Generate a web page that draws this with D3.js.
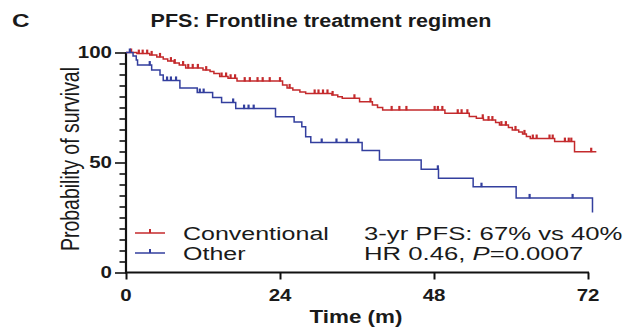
<!DOCTYPE html>
<html>
<head>
<meta charset="utf-8">
<script src="https://cdn.jsdelivr.net/npm/d3@7"></script>
<style>
  html, body { margin: 0; padding: 0; background: #fff; }
  svg { display: block; }
  text { font-family: "Liberation Sans", Arial, sans-serif; fill: #1a1a1a; }
</style>
</head>
<body>
<svg id="chart" width="631" height="330"></svg>
<script>
// Kaplan–Meier PFS by frontline treatment regimen
const xTicks = [0, 24, 48, 72];
const yTicks = [0, 50, 100];

// Conventional: step times (months) and survival (%) after each step
const convTimes = [0, 1.7, 3.7, 4.8, 5.8, 6.5, 7.5, 8.3, 9.3, 12.0, 13.1, 13.7, 14.6, 15.9, 17.3,
  24.4, 25.1, 26.0, 27.1, 28.0, 32.1, 33.0, 33.7, 36.4, 38.4, 39.2, 40.0, 49.7, 53.5, 54.6, 55.7,
  57.6, 58.2, 59.6, 60.2, 61.2, 61.8, 62.4, 63.0, 66.8, 69.9, 73.3];
const convSurv = [100, 99.5, 98.9, 98.0, 97.0, 96.1, 95.2, 94.3, 93.0, 92.0, 91.4, 90.5, 89.1, 88.3, 87.0,
  85.2, 83.9, 83.0, 82.0, 81.4, 80.7, 79.9, 79.2, 77.6, 76.1, 75.0, 73.9, 72.4, 70.9, 70.1, 69.3,
  68.2, 67.0, 65.9, 64.8, 63.9, 63.0, 61.8, 60.9, 59.5, 54.9, 54.9];
// Conventional: censored observations (months)
const convCensor = [0.8, 2.0, 2.6, 3.3, 4.0, 5.3, 7.0, 7.6, 8.9, 9.7, 10.4, 11.2, 12.5, 14.9, 15.6, 16.3,
  17.0, 18.5, 19.3, 20.5, 21.3, 22.4, 24.0, 25.5, 29.4, 30.0, 30.7, 31.4, 32.2, 35.6, 38.1, 41.4, 42.6,
  43.7, 48.1, 48.6, 49.3, 51.7, 52.3, 53.2, 55.6, 56.5, 57.1, 58.5, 59.2, 60.7, 62.1, 63.4, 64.0,
  66.0, 66.5, 68.4, 69.0, 69.4, 72.5];

// Other: step times (months) and survival (%) after each step
const otherTimes = [0, 1.1, 1.6, 1.8, 4.0, 5.3, 5.8, 8.4, 11.1, 13.5, 14.9, 17.1, 23.3, 26.2, 27.4,
  28.0, 28.8, 36.8, 39.5, 46.0, 48.7, 54.1, 60.8, 72.7];
const otherSurv = [100, 98.4, 96.6, 94.3, 92.0, 89.8, 87.3, 83.9, 81.8, 79.5, 77.3, 74.5, 70.8, 68.4, 66.3,
  61.7, 59.1, 55.5, 51.1, 46.9, 42.8, 39.0, 33.9, 27.3];
// Other: censored observations (months)
const otherCensor = [0.6, 3.7, 6.4, 7.0, 7.8, 11.5, 12.1, 16.7, 18.4, 19.1, 19.9, 30.5, 32.8, 34.4, 36.2,
  48.6, 55.4, 62.9, 69.6];

const seriesNames = ["Conventional", "Other"];
const statLines = ["3-yr PFS: 67% vs 40%", "HR 0.46, "];

const RED = "#c42a2c";
const BLUE = "#333f9e";
const SX = 1.28; // horizontal text stretch

const svg = d3.select("#chart");
const x = d3.scaleLinear().domain([0, 72]).range([126, 588]);
const y = d3.scaleLinear().domain([0, 100]).range([272.5, 52.5]);

function label(sel, px, py, str, opts = {}) {
  const sx = opts.sx || SX;
  const t = sel.append("text")
    .attr("transform", `translate(${px},${py}) scale(${sx},1)${opts.rotate ? " rotate(" + opts.rotate + ")" : ""}`)
    .attr("font-size", opts.size || 16)
    .attr("font-weight", opts.bold ? "bold" : "normal")
    .attr("text-anchor", opts.anchor || "start")
    .text(str);
  return t;
}

// Panel letter and title
label(svg, 12, 27, "C", { size: 19, bold: true });
label(svg, 321, 27, "PFS: Frontline treatment regimen", { size: 17.5, bold: true, anchor: "middle", sx: 1.23 });

// Y axis with minor ticks every 5
const yAxis = d3.axisLeft(y).tickValues(d3.range(0, 101, 5)).tickSize(6.5).tickFormat("");
const gy = svg.append("g").attr("transform", `translate(${x(0)},0)`).call(yAxis);
gy.selectAll("line").attr("stroke", "#111").attr("stroke-width", 1.6);
gy.select(".domain").attr("stroke", "#111").attr("stroke-width", 2.2)
  .attr("d", `M0,${y(0)}V${y(100)}`);
gy.selectAll(".tick").filter(d => yTicks.includes(d)).select("line").attr("x2", -11);
yTicks.forEach(v => label(svg, 112, y(v) + 5.5, String(v), { size: 16, bold: true, anchor: "end" }));

// X axis
const xAxis = d3.axisBottom(x).tickValues(xTicks).tickSize(7).tickFormat("");
const gx = svg.append("g").attr("transform", `translate(0,${y(0)})`).call(xAxis);
gx.selectAll("line").attr("stroke", "#111").attr("stroke-width", 2);
gx.select(".domain").attr("stroke", "#111").attr("stroke-width", 2.2)
  .attr("d", `M${x(0) - 1},0H${x(72) + 1}`);
xTicks.forEach(v => label(svg, x(v), 301, String(v), { size: 16, bold: true, anchor: "middle" }));

label(svg, 356, 323, "Time (m)", { size: 17.5, bold: true, anchor: "middle" });
label(svg, 79, 159, "Probability of survival", { size: 19.5, anchor: "middle", rotate: -90 });

// Survival curves
const stepLine = d3.line().x(d => x(d[0])).y(d => y(d[1])).curve(d3.curveStepAfter);
function survAt(times, surv, t) {
  let s = surv[0];
  for (let i = 0; i < times.length; i++) if (times[i] <= t) s = surv[i];
  return s;
}
function drawCurve(times, surv, censor, color) {
  const pts = times.map((t, i) => [t, surv[i]]);
  svg.append("path").attr("d", stepLine(pts))
    .attr("fill", "none").attr("stroke", color).attr("stroke-width", 1.5);
  svg.append("g").selectAll("line").data(censor).join("line")
    .attr("x1", d => x(d)).attr("x2", d => x(d))
    .attr("y1", d => y(survAt(times, surv, d)) + 0.5)
    .attr("y2", d => y(survAt(times, surv, d)) - 4)
    .attr("stroke", color).attr("stroke-width", 2.2);
}
drawCurve(convTimes, convSurv, convCensor, RED);
drawCurve(otherTimes, otherSurv, otherCensor, BLUE);

// Legend
const colors = [RED, BLUE];
seriesNames.forEach((name, i) => {
  const ly = 233 + i * 20;
  svg.append("line").attr("x1", 135).attr("x2", 165).attr("y1", ly).attr("y2", ly)
    .attr("stroke", colors[i]).attr("stroke-width", 1.5);
  svg.append("line").attr("x1", 150).attr("x2", 150).attr("y1", ly).attr("y2", ly - 4)
    .attr("stroke", colors[i]).attr("stroke-width", 2);
  label(svg, 183, ly + 6.5, name, { size: 17.6, sx: 1.42 });
});
label(svg, 364, 239.5, statLines[0], { size: 17.6, sx: 1.46 });
const hr = label(svg, 364, 259.5, statLines[1], { size: 17.6, sx: 1.46 });
hr.append("tspan").attr("font-style", "italic").text("P");
hr.append("tspan").text("=0.0007");
</script>
</body>
</html>
